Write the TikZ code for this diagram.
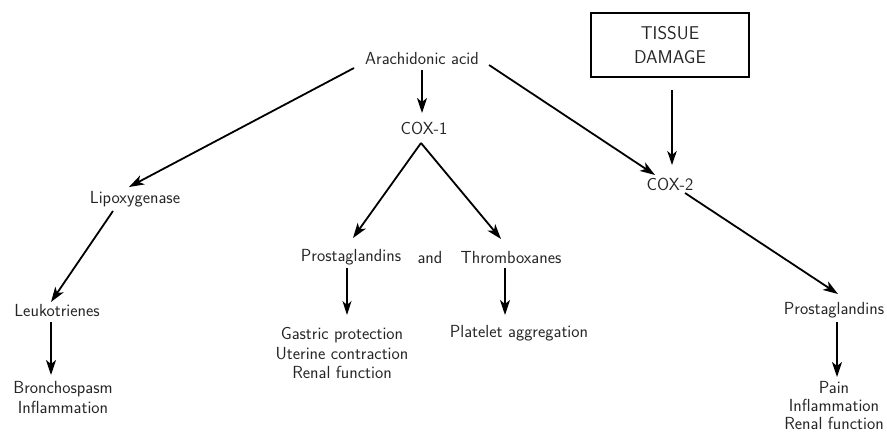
\documentclass[tikz,border=0pt]{standalone}
\usetikzlibrary{arrows.meta,calc}
\begin{document}
\begin{tikzpicture}[x=1pt,y=-1pt,
  lbl/.style={inner sep=0pt,font=\sffamily\fontsize{17.5}{19.5}\selectfont,align=center,text=black!85},
  arr/.style={-{Stealth[length=15pt,width=10pt,inset=4pt]},line width=1.8pt},
  thinarr/.style={-{Stealth[length=14pt,width=9pt,inset=4pt]},line width=1.1pt},
  midarr/.style={-{Stealth[length=14pt,width=9.5pt,inset=4pt]},line width=1.4pt}]
\useasboundingbox (0,0) rectangle (887,432);
\node[lbl] (aa) at (422,58) {Arachidonic acid};
\node[lbl] (cox1) at (424,128) {COX-1};
\node[draw,line width=2.6pt,minimum width=158pt,minimum height=64pt,inner sep=0pt,
      align=center,font=\sffamily\fontsize{18.5}{24}\selectfont,text=black!85] (tissue) at (670,45) {TISSUE\\DAMAGE};
\node[lbl] (cox2) at (670,184) {COX-2};
\node[lbl] (lipo) at (135,199) {Lipoxygenase};
\node[lbl] (pmid) at (351,257) {Prostaglandins};
\node[lbl] (and) at (430,257) {and};
\node[lbl] (thromb) at (511,257) {Thromboxanes};
\node[lbl] (leuko) at (57,310) {Leukotrienes};
\node[lbl] (gastric) at (342,353) {Gastric protection\\Uterine contraction\\Renal function};
\node[lbl] (platelet) at (519,333) {Platelet aggregation};
\node[lbl] (pright) at (834,310) {Prostaglandins};
\node[lbl] (broncho) at (63,397.5) {Bronchospasm\\Inflammation};
\node[lbl,font=\sffamily\fontsize{17.5}{18}\selectfont] (pain) at (834,405) {Pain\\Inflammation\\Renal function};

\draw[arr] ($(aa)+(-68,10)$) -- ($(lipo)+(-6,-12)$);
\draw[arr] ($(aa)+(0,12)$) -- ($(cox1)+(-2,-15)$);
\draw[arr] ($(aa)+(67,7)$) -- ($(cox2)+(-15,-9)$);
\draw[midarr] ($(tissue.south)+(2,12)$) -- ($(cox2)+(2,-19)$);
\draw[arr] ($(lipo)+(-22,12)$) -- ($(leuko)+(-6,-8)$);
\draw[arr] ($(leuko)+(-6,12)$) -- ($(broncho)+(-12,-22.5)$);
\draw[arr] ($(cox1)+(-3,15)$) -- ($(pmid)+(2,-19)$);
\draw[arr] ($(cox1)+(-3,15)$) -- ($(thromb)+(-10,-18)$);
\draw[thinarr] ($(pmid)+(-4,11)$) -- ($(gastric)+(5,-38)$);
\draw[arr] ($(thromb)+(-6,11)$) -- ($(platelet)+(-14,-18)$);
\draw[arr] ($(cox2)+(15,9)$) -- ($(pright)+(4,-16)$);
\draw[arr] ($(pright)+(3,12)$) -- ($(pain)+(3,-28)$);
\end{tikzpicture}
\end{document}
